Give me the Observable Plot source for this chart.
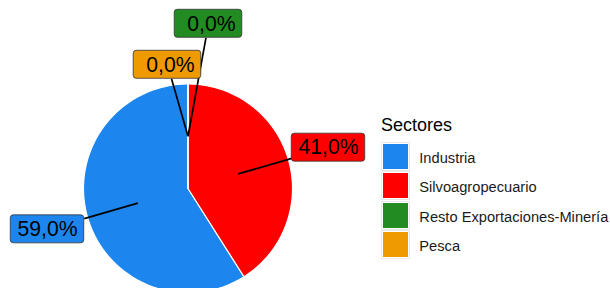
<!DOCTYPE html>
<html>
<head>
<meta charset="utf-8">
<script src="https://cdn.jsdelivr.net/npm/d3@7"></script>
<script src="https://cdn.jsdelivr.net/npm/@observablehq/plot@0.6"></script>
<style>
  html, body { margin: 0; padding: 0; background: #fff; }
  #wrap { position: relative; width: 610px; height: 288px; overflow: hidden; font-family: "Liberation Sans", Arial, sans-serif; }
  #wrap svg { position: absolute; left: 0; top: 0; }
  .lg-title { position: absolute; font-size: 18px; line-height: 1; color: #000; white-space: nowrap; }
  .lg-key { position: absolute; width: 25px; height: 25px; border: 1px solid #fff; box-shadow: 0 0 0 0.6px #d9d9d9; }
  .lg-label { position: absolute; font-size: 14.67px; line-height: 1; color: #1a1a1a; white-space: nowrap; }
</style>
</head>
<body>
<div id="wrap"></div>
<script>
// ---- data ----
const categories = ["Industria", "Silvoagropecuario", "Resto Exportaciones-Minería", "Pesca"];
const shares = [59.0, 41.0, 0.0, 0.0];
const colors = ["#1C86EE", "#FF0000", "#228B22", "#EE9A00"];
const legendTitle = "Sectores";

// ---- layout ----
const W = 610, H = 288;
const R = 104.5, cx = 187.5, cy = 188;
const FONT = "'Liberation Sans', Arial, sans-serif";
const labelSize = 21.2, padX = 6.7, boxH = 28;

// stack clockwise from top in reverse legend order (as ggplot does)
const order = categories.map((c, i) => i).reverse();
const total = d3.sum(shares);
let acc = 0;
const slices = order.map(i => {
  const a0 = acc / total * 2 * Math.PI;
  acc += shares[i];
  const a1 = acc / total * 2 * Math.PI;
  return {sector: categories[i], value: shares[i], a0, a1};
});

// slice polygons (drawn: big slices first, zero-width ones on top)
const piePts = [];
const drawOrder = slices.slice().sort((a, b) => (b.a1 - b.a0) - (a.a1 - a.a0));
for (const s of drawOrder) {
  const n = Math.max(2, Math.ceil((s.a1 - s.a0) * 60));
  piePts.push({sector: s.sector, u: 0, v: 0});
  for (let k = 0; k <= n; k++) {
    const a = s.a0 + (s.a1 - s.a0) * k / n;
    piePts.push({sector: s.sector, u: Math.sin(a), v: Math.cos(a)});
  }
  piePts.push({sector: s.sector, u: 0, v: 0});
}

// labels
const fmt = d3.format(".1f");
const rawLabels = slices.map(s => fmt(s.value).replace(".", ",") + "%");
const maxLen = d3.max(rawLabels, d => d.length);
const ctx = document.createElement("canvas").getContext("2d");
ctx.font = `${labelSize}px ${FONT}`;
const labels = slices.map((s, i) => {
  const text = rawLabels[i].padStart(maxLen, "\u00A0");
  const mid = (s.a0 + s.a1) / 2;
  const w = ctx.measureText(text).width + 2 * padX;
  const lr = s.value === 0 ? 1.38 : 1.4;
  return {
    sector: s.sector, text, w, h: boxH,
    ax: cx + 0.5 * R * Math.sin(mid), ay: cy - 0.5 * R * Math.cos(mid),
    px: cx + lr * R * Math.sin(mid), py: cy - lr * R * Math.cos(mid)
  };
});
// simple repel for overlapping labels
const gap = 13;
const overlap = (a, b) => Math.abs(a.px - b.px) < (a.w + b.w) / 2 + gap && Math.abs(a.py - b.py) < (a.h + b.h) / 2 + gap;
for (let iter = 0; iter < 400; iter++) {
  let moved = false;
  for (let i = 0; i < labels.length; i++) for (let j = i + 1; j < labels.length; j++) {
    const a = labels[i], b = labels[j];
    if (!overlap(a, b)) continue;
    let dx = b.px - a.px, dy = b.py - a.py;
    let len = Math.hypot(dx, dy);
    if (len < 1e-6) { dx = 1; dy = -1; len = Math.SQRT2; }
    const step = 0.25;
    a.px -= dx / len * step; a.py -= dy / len * step;
    b.px += dx / len * step; b.py += dy / len * step;
    moved = true;
  }
  if (!moved) break;
}
for (const l of labels) {
  const dx = l.ax - l.px, dy = l.ay - l.py;
  const t = Math.min((l.w / 2) / Math.max(Math.abs(dx), 1e-9), (l.h / 2) / Math.max(Math.abs(dy), 1e-9));
  l.ex = l.px + dx * Math.min(t, 1); l.ey = l.py + dy * Math.min(t, 1);
  // convert to pie units
  l.au = (l.ax - cx) / R; l.av = (cy - l.ay) / R;
  l.eu = (l.ex - cx) / R; l.ev = (cy - l.ey) / R;
  l.lu = (l.px - cx) / R; l.lv = (cy - l.py) / R;
  l.x1 = (l.px - l.w / 2 - cx) / R; l.x2 = (l.px + l.w / 2 - cx) / R;
  l.y1 = (cy - (l.py - l.h / 2)) / R; l.y2 = (cy - (l.py + l.h / 2)) / R;
}

const chart = Plot.plot({
  width: W, height: H, margin: 0,
  x: {domain: [-cx / R, (W - cx) / R], axis: null},
  y: {domain: [-(H - cy) / R, cy / R], axis: null},
  color: {domain: categories, range: colors},
  style: {background: "white", fontFamily: FONT},
  marks: [
    Plot.line(piePts, {x: "u", y: "v", z: "sector", fill: "sector", stroke: "white", strokeWidth: 1.2, strokeLinejoin: "round"}),
    Plot.link(labels, {x1: "au", y1: "av", x2: "eu", y2: "ev", stroke: "black", strokeWidth: 1.7}),
    Plot.rect(labels, {x1: "x1", x2: "x2", y1: "y1", y2: "y2", fill: "sector", stroke: "#333", strokeWidth: 0.8, rx: 3}),
    Plot.text(labels, {x: "lu", y: "lv", text: "text", fontSize: labelSize, fill: "black", textAnchor: "middle", lineAnchor: "middle"})
  ]
});
const wrap = document.getElementById("wrap");
wrap.appendChild(chart);

// legend
const lgLeft = 381, titleTop = 116.3, keyTop = 143, keyStep = 29.3, keyLeft = 382, labelLeft = 419.3;
const t = document.createElement("div");
t.className = "lg-title"; t.textContent = legendTitle;
t.style.left = lgLeft + "px"; t.style.top = titleTop + "px";
wrap.appendChild(t);
categories.forEach((c, i) => {
  const k = document.createElement("div");
  k.className = "lg-key"; k.style.background = colors[i];
  k.style.left = keyLeft + "px"; k.style.top = (keyTop + i * keyStep) + "px";
  wrap.appendChild(k);
  const l = document.createElement("div");
  l.className = "lg-label"; l.textContent = c;
  l.style.left = labelLeft + "px"; l.style.top = (keyTop + i * keyStep + 7.9) + "px";
  wrap.appendChild(l);
});
</script>
</body>
</html>
